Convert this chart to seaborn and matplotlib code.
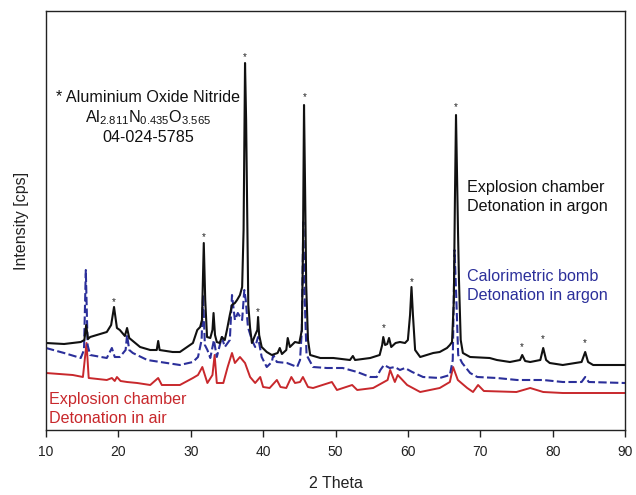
import numpy as np
import pandas as pd
import matplotlib
matplotlib.use("Agg")
import matplotlib.pyplot as plt
import seaborn as sns

# ---- data (2 Theta, intensity in arbitrary units) ----
black_x = [10.0, 12.5, 14.8, 15.3, 15.55, 15.8, 16.1, 17.5, 18.4, 19.0, 19.4, 19.8, 20.2, 20.9, 21.2, 21.5,
           23.0, 24.4, 25.3, 25.5, 25.7, 27.5, 28.5, 29.9, 30.3, 30.9, 31.3, 31.55, 31.8, 32.0, 32.25, 32.7,
           33.0, 33.15, 33.35, 33.6, 34.0, 34.3, 34.7, 35.0, 35.4, 35.7, 36.1, 36.4, 36.8, 37.1, 37.3, 37.5,
           37.65, 37.8, 37.95, 38.2, 38.45, 38.9, 39.2, 39.3, 39.45, 39.8, 40.5, 41.2, 42.0, 42.3, 42.6, 43.2,
           43.4, 43.7, 44.4, 45.0, 45.35, 45.5, 45.65, 45.8, 45.95, 46.2, 46.5, 47.9, 49.7, 52.0, 52.4, 52.7,
           54.8, 56.1, 56.45, 56.6, 56.85, 57.15, 57.4, 57.7, 58.3, 58.9, 59.6, 60.0, 60.3, 60.5, 60.7, 61.0,
           61.7, 63.5, 64.4, 65.4, 65.8, 66.1, 66.35, 66.5, 66.65, 66.8, 66.93, 67.06, 67.3, 67.6, 68.6, 71.3,
           72.3, 74.1, 75.5, 75.8, 76.2, 76.9, 78.3, 78.7, 79.1, 79.6, 81.4, 84.0, 84.5, 84.9, 85.6, 90.0]
black_y = [87, 86, 88, 90, 105, 91, 93, 96, 98, 105, 123, 102, 100, 94, 102, 92,
           83, 80, 80, 89, 80, 78, 78, 85, 87, 100, 103, 110, 187, 130, 93, 92,
           100, 117, 95, 88, 87, 93, 90, 100, 115, 125, 127, 130, 135, 143, 200, 367,
           310, 220, 125, 102, 87, 95, 100, 113, 95, 83, 78, 75, 77, 82, 76, 80,
           92, 83, 88, 87, 100, 180, 325, 240, 145, 90, 75, 72, 72, 70, 74, 70,
           72, 75, 85, 93, 85, 86, 92, 83, 87, 88, 87, 90, 115, 143, 115, 80,
           73, 77, 78, 82, 85, 88, 130, 230, 315, 250, 197, 150, 90, 77, 73, 72,
           70, 68, 70, 75, 69, 68, 70, 82, 70, 67, 65, 68, 78, 68, 65, 65]

blue_x = [10.0, 12.5, 14.8, 15.25, 15.5, 15.75, 16.1, 18.4, 19.1, 19.5, 20.2, 21.0, 21.2, 21.5, 22.0,
          24.0, 26.7, 28.5, 30.3, 31.0, 31.5, 31.7, 31.95, 32.3, 32.7, 33.2, 33.6, 34.3, 34.7, 35.4,
          35.7, 36.1, 36.5, 37.1, 37.4, 37.6, 37.9, 38.45, 38.9, 39.3, 39.8, 40.5, 41.2, 41.4, 41.9,
          43.3, 44.7, 45.1, 45.35, 45.55, 45.75, 46.0, 46.9, 48.8, 51.0, 53.0, 54.8, 55.7, 56.2, 56.7,
          57.5, 58.2, 58.9, 59.6, 60.6, 62.1, 64.4, 65.8, 66.2, 66.45, 66.7, 66.95, 67.5, 68.6, 69.6,
          72.3, 75.1, 78.7, 81.4, 84.0, 84.5, 85.0, 90.0]
blue_y = [82, 77, 72, 80, 160, 85, 75, 72, 82, 73, 73, 80, 95, 80, 77,
          70, 67, 65, 68, 73, 90, 135, 85, 80, 72, 90, 73, 93, 83, 90,
          135, 110, 117, 110, 140, 130, 103, 90, 83, 93, 73, 63, 68, 75, 68,
          67, 63, 70, 100, 208, 130, 75, 63, 62, 62, 58, 53, 53, 60, 65,
          62, 63, 60, 62, 58, 53, 52, 55, 70, 180, 130, 75, 67, 57, 53,
          52, 50, 50, 48, 48, 53, 48, 47]

red_x = [10.0, 13.7, 15.1, 15.6, 15.9, 18.4, 19.1, 19.5, 19.8, 20.3, 21.2, 22.6, 24.4, 25.5, 26.0,
         28.5, 30.3, 31.0, 31.6, 32.3, 33.0, 33.3, 33.6, 34.5, 35.1, 35.7, 36.1, 36.8, 37.5, 38.2,
         38.9, 39.6, 40.0, 40.9, 41.9, 42.4, 43.2, 43.9, 44.4, 45.1, 45.5, 46.2, 46.9, 49.5, 50.2,
         52.3, 53.0, 55.2, 57.2, 57.55, 58.2, 58.6, 59.9, 61.7, 64.4, 65.8, 66.25, 66.9, 68.2, 69.0,
         69.7, 70.5, 75.0, 76.9, 78.7, 81.4, 90.0]
red_y = [57, 55, 53, 87, 52, 50, 52, 49, 53, 49, 48, 47, 45, 52, 45,
         45, 52, 55, 63, 47, 55, 75, 47, 47, 63, 77, 67, 73, 67, 53,
         47, 53, 43, 42, 50, 43, 42, 53, 47, 48, 53, 43, 42, 48, 40,
         45, 40, 42, 50, 60, 48, 55, 45, 38, 42, 48, 63, 50, 42, 38,
         45, 39, 38, 42, 38, 37, 37]

star_x = [19.4, 31.8, 37.5, 39.3, 45.7, 56.6, 60.5, 66.65, 75.8, 78.7, 84.5]
star_y = [128, 193, 373, 118, 333, 102, 148, 323, 83, 91, 87]

x_ticks = [10, 20, 30, 40, 50, 60, 70, 80, 90]

# ---- style ----
sns.set_theme(style="white")
plt.rcParams['font.family'] = ['Liberation Sans', 'DejaVu Sans']
plt.rcParams['mathtext.fontset'] = 'custom'
plt.rcParams['mathtext.rm'] = 'Liberation Sans'
plt.rcParams['mathtext.default'] = 'regular'

BLACK = '#111111'
BLUE = '#2b2f9a'
RED = '#c8282c'
TXT = 11.6

fig = plt.figure(figsize=(6.36, 4.95), dpi=100)
ax = fig.add_axes([46/636, 1 - 430/495, (625 - 46)/636, (430 - 11)/495])

df_red = pd.DataFrame({'theta': red_x, 'I': red_y})
df_blue = pd.DataFrame({'theta': blue_x, 'I': blue_y})
df_black = pd.DataFrame({'theta': black_x, 'I': black_y})

sns.lineplot(data=df_red, x='theta', y='I', color=RED, lw=1.4, estimator=None, ax=ax)
sns.lineplot(data=df_blue, x='theta', y='I', color=BLUE, lw=1.5, estimator=None, ax=ax,
             linestyle=(0, (4, 1.6)))
sns.lineplot(data=df_black, x='theta', y='I', color=BLACK, lw=1.5, estimator=None, ax=ax)

for sx, sy in zip(star_x, star_y):
    ax.text(sx, sy, '*', ha='center', va='center', fontsize=7, color='#222222')

ax.set_xlim(10, 90)
ax.set_ylim(0, 419)
ax.set_xticks(x_ticks)
ax.set_xticklabels([str(t) for t in x_ticks], fontsize=10, color='#222222')
ax.set_yticks([])
ax.tick_params(axis='x', direction='out', length=5, width=1, color='#222222', pad=6, bottom=True)
for s in ax.spines.values():
    s.set_color('#222222')
    s.set_linewidth(1.0)

ax.set_xlabel('2 Theta', fontsize=11.5, color='#222222', labelpad=12)
ax.set_ylabel('Intensity [cps]', fontsize=11.5, color='#222222', labelpad=12)

ax.text(24.1, 333, '* Aluminium Oxide Nitride', ha='center', va='center', fontsize=TXT, color='#111111')
ax.text(24.1, 312, r'Al$_{2.811}$N$_{0.435}$O$_{3.565}$', ha='center', va='center', fontsize=TXT, color='#111111')
ax.text(24.1, 292, '04-024-5785', ha='center', va='center', fontsize=TXT, color='#111111')

ax.text(68.2, 233, 'Explosion chamber\nDetonation in argon', ha='left', va='center',
        fontsize=TXT, color='#111111', linespacing=1.3)
ax.text(68.2, 144, 'Calorimetric bomb\nDetonation in argon', ha='left', va='center',
        fontsize=TXT, color=BLUE, linespacing=1.3)
ax.text(10.4, 21, 'Explosion chamber\nDetonation in air', ha='left', va='center',
        fontsize=TXT, color=RED, linespacing=1.3)

fig.savefig('out.png', dpi=100)
